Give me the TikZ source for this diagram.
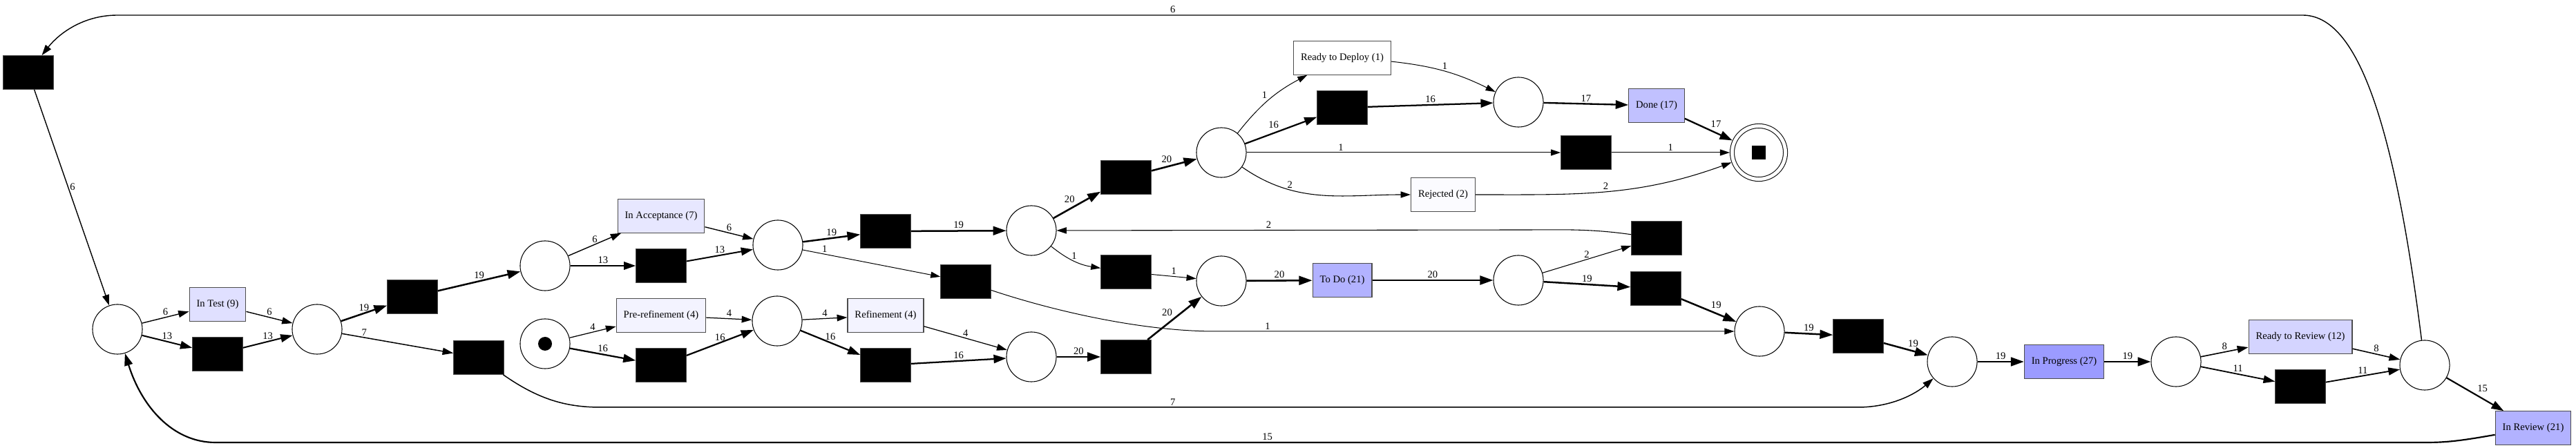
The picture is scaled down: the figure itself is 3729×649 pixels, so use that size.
\documentclass[tikz,border=0pt]{standalone}
\usepackage{fontspec}
\setmainfont{Liberation Serif}
\usetikzlibrary{arrows.meta}
\definecolor{freq27}{HTML}{9B9BFF}
\definecolor{freq21}{HTML}{B2B2FF}
\definecolor{freq17}{HTML}{C1C1FF}
\definecolor{freq12}{HTML}{D4D4FF}
\definecolor{freq9}{HTML}{E0E0FF}
\definecolor{freq7}{HTML}{E7E7FF}
\definecolor{freq4}{HTML}{F3F3FF}
\definecolor{freq2}{HTML}{FBFBFF}
\tikzset{
  place/.style = {
    circle, draw, line width=0.25mm, minimum size=17.3mm, inner sep=0pt, fill=white
  },
  sink/.style = {
    place, minimum size=18.5mm, double, double distance=1.2mm, outer sep=0.85mm
  },
  silent/.style = {
    draw=black!70, fill=black, minimum width=17.5mm, minimum height=11.8mm, inner sep=0pt
  },
  activity/.style = {
    draw=black!70, line width=0.3mm, minimum height=11.6mm, inner xsep=2.5mm, inner ysep=0pt
  },
  flow/.style = {-{Triangle[length=2.6mm 3.2, width=1.56mm 2.5]}, line width={0.22mm+0.02mm*#1}},
  weight/.style = {inner sep=1.5pt},
}

\begin{document}
\begin{tikzpicture}[x=0.24mm, y=0.24mm, font=\fontsize{10}{12}\selectfont]
    \useasboundingbox (0,0) rectangle (3729,649);

    % Places
    \node[place] (p0) at (170,172) {};
    \node[place] (p1) at (459,172) {};
    \node[place] (p2) at (789,264) {};
    \node[place] (p3) at (1126,294) {};
    \node[place] (p4) at (789,151) {};
    \node[place] (p5) at (1125,184) {};
    \node[place] (p6) at (1493,132) {};
    \node[place] (p7) at (1493,315) {};
    \node[place] (p8) at (1768,428) {};
    \node[place] (p9) at (2198,501) {};
    \node[place] (p10) at (1768,242) {};
    \node[place] (p11) at (2198,243) {};
    \node[place] (p12) at (2547,169) {};
    \node[place] (p13) at (2826,125) {};
    \node[place] (p14) at (3150,125) {};
    \node[place] (p15) at (3510,120) {};
    \node[sink] (pend) at (2546,428) {\rule{4.8mm}{4.6mm}};

    % Initial marking
    \fill (p4) circle[radius=10];

    % Silent transitions
    \node[silent] (t0) at (41,544) {};
    \node[silent] (t1) at (315,136) {};
    \node[silent] (t2) at (597,219) {};
    \node[silent] (t3) at (693,131) {};
    \node[silent] (t4) at (957,264) {};
    \node[silent] (t5) at (1282,314) {};
    \node[silent] (t6) at (1398,241) {};
    \node[silent] (t7) at (957,120) {};
    \node[silent] (t8) at (1282,120) {};
    \node[silent] (t9) at (1630,132) {};
    \node[silent] (t10) at (1630,392) {};
    \node[silent] (t11) at (1630,255) {};
    \node[silent] (t12) at (1943,493) {};
    \node[silent] (t13) at (2296,428) {};
    \node[silent] (t14) at (2398,304) {};
    \node[silent] (t15) at (2397,231) {};
    \node[silent] (t16) at (2690,162) {};
    \node[silent] (t17) at (3330,89) {};

    % Activities (fill by frequency)
    \node[activity, fill=freq9] (intest) at (315,208) {In Test (9)};
    \node[activity, fill=freq7] (inacc) at (957,336) {In Acceptance (7)};
    \node[activity, fill=freq4] (preref) at (957,192) {Pre-refinement (4)};
    \node[activity, fill=freq4] (refine) at (1282,192) {Refinement (4)};
    \node[activity, fill=white] (deploy) at (1943,565) {Ready to Deploy (1)};
    \node[activity, fill=freq2] (rejected) at (2089,367) {Rejected (2)};
    \node[activity, fill=freq17] (done) at (2398,496) {Done (17)};
    \node[activity, fill=freq21] (todo) at (1943,243) {To Do (21)};
    \node[activity, fill=freq27] (inprog) at (2988,125) {In Progress (27)};
    \node[activity, fill=freq12] (rtr) at (3330,161) {Ready to Review (12)};
    \node[activity, fill=freq21] (inrev) at (3667,29) {In Review (21)};

    % Arcs, left part
    \draw[flow=6] (t0) -- node[weight, right, pos=0.45] {6} (p0);
    \draw[flow=6] (p0) -- node[weight, above] {6} (intest);
    \draw[flow=13] (p0) -- node[weight, above] {13} (t1);
    \draw[flow=6] (intest) -- node[weight, above] {6} (p1);
    \draw[flow=13] (t1) -- node[weight, above] {13} (p1);
    \draw[flow=19] (p1) -- node[weight, above] {19} (t2);
    \draw[flow=7] (p1) -- node[weight, above, pos=0.2] {7} (t3);
    \draw[flow=19] (t2) -- node[weight, above] {19} (p2);
    \draw[flow=6] (p2) -- node[weight, above] {6} (inacc);
    \draw[flow=13] (p2) -- node[weight, above] {13} (t4);
    \draw[flow=6] (inacc) -- node[weight, above] {6} (p3);
    \draw[flow=13] (t4) -- node[weight, above] {13} (p3);
    \draw[flow=19] (p3) -- node[weight, above] {19} (t5);
    \draw[flow=1] (p3) -- node[weight, above, pos=0.16] {1} (t6);
    \draw[flow=4] (p4) -- node[weight, above] {4} (preref);
    \draw[flow=16] (p4) -- node[weight, above] {16} (t7);
    \draw[flow=4] (preref) -- node[weight, above] {4} (p5);
    \draw[flow=16] (t7) -- node[weight, above] {16} (p5);
    \draw[flow=4] (p5) -- node[weight, above] {4} (refine);
    \draw[flow=16] (p5) -- node[weight, above] {16} (t8);
    \draw[flow=4] (refine) -- node[weight, above] {4} (p6);
    \draw[flow=16] (t8) -- node[weight, above] {16} (p6);

    % Arcs, middle part
    \draw[flow=20] (p6) -- node[weight, above] {20} (t9);
    \draw[flow=20] (t9) -- node[weight, above left] {20} (p10);
    \draw[flow=19] (t5) -- node[weight, above] {19} (p7);
    \draw[flow=20] (p7) -- node[weight, above left] {20} (t10);
    \draw[flow=1] (p7) to[bend right=15] node[weight, above] {1} (t11);
    \draw[flow=1] (t11) -- node[weight, above] {1} (p10);
    \draw[flow=20] (t10) -- node[weight, above left] {20} (p8);
    \draw[flow=1] (p8) to[bend left=12] node[weight, above left] {1} (deploy);
    \draw[flow=16] (p8) -- node[weight, above left] {16} (t12);
    \draw[flow=1] (p8) -- node[weight, above, pos=0.3] {1} (t13);
    \draw[flow=2] (p8) to[out=-35, in=180] node[weight, above, pos=0.3] {2} (rejected);
    \draw[flow=1] (deploy) to[bend left=10] node[weight, above] {1} (p9);
    \draw[flow=16] (t12) -- node[weight, above] {16} (p9);
    \draw[flow=17] (p9) -- node[weight, above] {17} (done);
    \draw[flow=17] (done) -- node[weight, above right] {17} (pend);
    \draw[flow=1] (t13) -- node[weight, above] {1} (pend);
    \draw[flow=2] (rejected) to[out=0, in=200] node[weight, above] {2} (pend);
    \draw[flow=20] (p10) -- node[weight, above] {20} (todo);
    \draw[flow=20] (todo) -- node[weight, above] {20} (p11);
    \draw[flow=2] (p11) -- node[weight, above] {2} (t14);
    \draw[flow=19] (p11) -- node[weight, above] {19} (t15);

    % Arcs, right part
    \draw[flow=19] (t15) -- node[weight, above right] {19} (p12);
    \draw[flow=19] (p12) -- node[weight, above] {19} (t16);
    \draw[flow=19] (t16) -- node[weight, above right] {19} (p13);
    \draw[flow=19] (p13) -- node[weight, above] {19} (inprog);
    \draw[flow=19] (inprog) -- node[weight, above] {19} (p14);
    \draw[flow=8] (p14) -- node[weight, above] {8} (rtr);
    \draw[flow=11] (p14) -- node[weight, above] {11} (t17);
    \draw[flow=8] (rtr) -- node[weight, above] {8} (p15);
    \draw[flow=11] (t17) -- node[weight, above] {11} (p15);
    \draw[flow=15] (p15) -- node[weight, above right] {15} (inrev);

    % Long arcs (loop backs and skips)
    \draw[flow=6] (p15) .. controls (3460,520) and (3400,627) .. (3333,627)
      -- node[weight, above, pos=0.517] {6} (170,627) .. controls (120,627) and (85,600) .. (t0);
    \draw[flow=15] (inrev) .. controls (3560,10) and (3540,8) .. (3511,8)
      -- node[weight, above, pos=0.524] {15} (312,8) .. controls (250,8) and (205,60) .. (p0);
    \draw[flow=7] (t3) .. controls (780,70) and (820,59) .. (870,59)
      -- node[weight, above, pos=0.455] {7} (2689,59) .. controls (2740,59) and (2775,80) .. (p13);
    \draw[flow=1] (t6) .. controls (1520,200) and (1650,169) .. (1760,169)
      -- node[weight, above, pos=0.1] {1} (p12);
    \draw[flow=2] (t14) .. controls (2300,318) and (2260,316) .. (2204,316)
      -- node[weight, above, pos=0.545] {2} (p7);
  \end{tikzpicture}
\end{document}
